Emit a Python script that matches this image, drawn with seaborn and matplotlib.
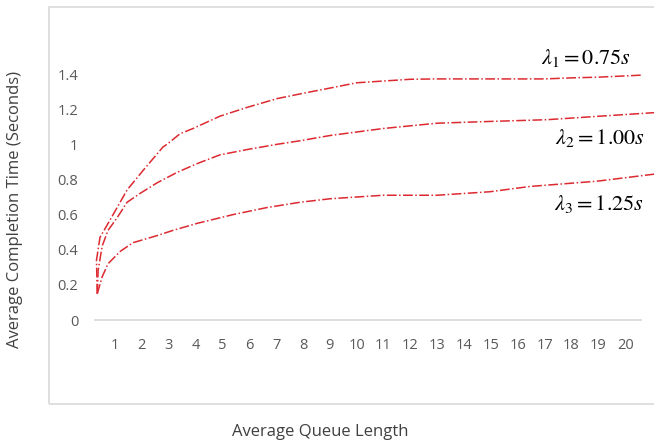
import matplotlib
matplotlib.use("Agg")
import matplotlib.pyplot as plt
from matplotlib.patches import Rectangle
import seaborn as sns

# values
queue_ticks = list(range(1, 21))
y_ticks = [0, 0.2, 0.4, 0.6, 0.8, 1.0, 1.2, 1.4]
y_tick_labels = ["0", "0.2", "0.4", "0.6", "0.8", "1", "1.2", "1.4"]

l1_x = [0.34, 0.31, 0.44, 0.63, 0.93, 1.45, 2.04, 2.79, 2.94, 3.42, 3.91, 4.91,
        5.92, 7.04, 8.0, 9.01, 10.0, 11.0, 12.0, 13.0, 14.0, 15.0, 16.0, 17.0,
        18.0, 19.0, 20.0, 20.67]
l1_y = [0.15, 0.34, 0.47, 0.52, 0.60, 0.74, 0.85, 0.985, 1.0, 1.06, 1.09, 1.16,
        1.21, 1.26, 1.29, 1.32, 1.35, 1.36, 1.37, 1.372, 1.372, 1.372, 1.372, 1.372,
        1.378, 1.382, 1.389, 1.394]

l2_x = [0.34, 0.37, 0.52, 0.74, 1.07, 1.45, 1.93, 2.56, 3.31, 4.06, 4.91, 5.92,
        7.04, 7.89, 9.01, 11.0, 13.0, 14.97, 17.1, 19.07, 21.08]
l2_y = [0.15, 0.28, 0.42, 0.51, 0.58, 0.67, 0.72, 0.78, 0.84, 0.89, 0.94, 0.97,
        1.00, 1.02, 1.05, 1.09, 1.12, 1.13, 1.14, 1.16, 1.18]

l3_x = [0.34, 0.52, 0.74, 1.19, 1.67, 2.56, 3.16, 4.06, 5.40, 6.66, 7.89, 9.01,
        11.0, 13.0, 14.97, 16.46, 18.96, 21.08]
l3_y = [0.15, 0.245, 0.32, 0.39, 0.44, 0.48, 0.51, 0.55, 0.60, 0.64, 0.67, 0.69,
        0.71, 0.71, 0.73, 0.76, 0.79, 0.83]

series = [
    (l1_x, l1_y, r"$\lambda_1 = 0.75s$", 20.22, 1.49),
    (l2_x, l2_y, r"$\lambda_2 = 1.00s$", 20.75, 1.036),
    (l3_x, l3_y, r"$\lambda_3 = 1.25s$", 20.71, 0.66),
]

sns.set_style("white")
plt.rcParams["font.family"] = ["Open Sans", "DejaVu Sans"]
plt.rcParams["mathtext.fontset"] = "stix"

line_color = "#dc2a30"
grey_text = "#595959"
frame_color = "#d9d9d9"

fig = plt.figure(figsize=(6.54, 4.47), dpi=100)
ax = fig.add_axes([95 / 654, 1 - 320 / 447, (640.7 - 95) / 654, (320 - 74) / 447])

for xs, ys, label, tx, ty in series:
    sns.lineplot(x=xs, y=ys, ax=ax, color=line_color, linestyle="-.",
                 linewidth=1.1, sort=False, estimator=None, clip_on=False)
    ax.text(tx, ty, label, ha="right", va="center", fontsize=16, color="black")

ax.set_xlim(0.255, 20.58)
ax.set_ylim(0, 1.4)
ax.set_xticks(queue_ticks)
ax.set_yticks(y_ticks)
ax.set_yticklabels(y_tick_labels)
ax.tick_params(axis="both", length=0, labelsize=10.5, labelcolor=grey_text)
ax.tick_params(axis="x", pad=13)
ax.tick_params(axis="y", pad=12)

for side in ["top", "right", "left"]:
    ax.spines[side].set_visible(False)
ax.spines["bottom"].set_color(frame_color)
ax.spines["bottom"].set_linewidth(1.2)
ax.patch.set_alpha(0)

fig.text(320 / 654, 1 - 432 / 447, "Average Queue Length", ha="center",
         va="center", fontsize=12, color="#404040")
fig.text(15 / 654, 1 - 210 / 447, "Average Completion Time (Seconds)", ha="center",
         va="center", rotation=90, fontsize=12, color="#404040")

fig.add_artist(Rectangle((49 / 654, 1 - 404 / 447), 1.0, (404 - 7) / 447,
                         transform=fig.transFigure, fill=False,
                         edgecolor=frame_color, linewidth=1.2))

fig.savefig("out.png", dpi=100)
